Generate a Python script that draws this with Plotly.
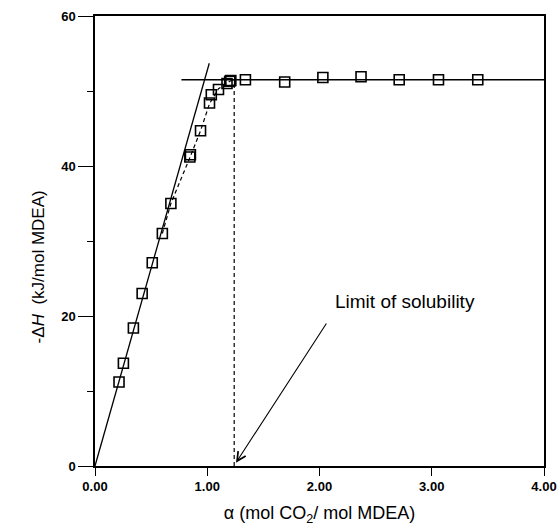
import plotly.graph_objects as go

# measured points: alpha (mol CO2 / mol MDEA) and -dH (kJ/mol MDEA)
alpha = [0.214, 0.253, 0.342, 0.42, 0.51, 0.60, 0.676, 0.845, 0.850, 0.94, 1.02,
         1.036, 1.10, 1.176, 1.20, 1.21, 1.34, 1.69, 2.03, 2.37, 2.71, 3.06, 3.41]
dH = [11.2, 13.7, 18.4, 23.0, 27.1, 31.0, 35.0, 41.2, 41.5, 44.7, 48.4,
      49.5, 50.2, 51.0, 51.3, 51.4, 51.5, 51.2, 51.8, 51.9, 51.5, 51.5, 51.5]

# initial-slope line through origin
slope_x = [0.0, 1.018]
slope_y = [0.0, 53.7]

# plateau line
plateau_x = [0.77, 4.0]
plateau_y = [51.5, 51.5]

# dashed transition curve
trans_x = [0.60, 0.676, 0.85, 0.94, 1.02, 1.10, 1.20, 1.24]
trans_y = [31.0, 35.0, 41.3, 44.7, 48.3, 50.3, 51.3, 51.5]

# limit of solubility
limit_x = [1.24, 1.24]
limit_y = [0.0, 51.5]

x_ticks = [0, 1, 2, 3, 4]
x_ticklabels = ["0.00", "1.00", "2.00", "3.00", "4.00"]
y_ticks = [0, 20, 40, 60]

FONT = "Liberation Sans, Arial, sans-serif"

fig = go.Figure()
fig.add_trace(go.Scatter(x=slope_x, y=slope_y, mode="lines",
                         line=dict(color="black", width=1.3), hoverinfo="skip"))
fig.add_trace(go.Scatter(x=plateau_x, y=plateau_y, mode="lines",
                         line=dict(color="black", width=1.3), hoverinfo="skip"))
fig.add_trace(go.Scatter(x=trans_x, y=trans_y, mode="lines",
                         line=dict(color="black", width=1.2, dash="4px,3px"), hoverinfo="skip"))
fig.add_trace(go.Scatter(x=limit_x, y=limit_y, mode="lines",
                         line=dict(color="black", width=1.2, dash="4px,3px"), hoverinfo="skip"))
fig.add_trace(go.Scatter(x=alpha, y=dH, mode="markers",
                         marker=dict(symbol="square-open", size=10, color="black",
                                     line=dict(width=1.6, color="black"))))

fig.add_annotation(x=1.256, y=0.45, ax=2.07, ay=19.2, xref="x", yref="y",
                   axref="x", ayref="y", text="", showarrow=True,
                   arrowhead=5, arrowsize=1.6, arrowwidth=1.1, arrowcolor="black")
fig.add_annotation(x=2.76, y=21.9, xref="x", yref="y", text="Limit of solubility",
                   showarrow=False, font=dict(family=FONT, size=19, color="black"))
fig.add_annotation(x=-0.125, y=26.6, xref="paper", yref="y", xanchor="center",
                   text="-Δ<i>H</i>\u00a0\u00a0(kJ/mol MDEA)", textangle=-90,
                   showarrow=False, font=dict(family=FONT, size=17, color="black"))

fig.update_layout(
    width=560, height=530,
    margin=dict(l=95, r=16, t=16, b=64),
    paper_bgcolor="white", plot_bgcolor="white",
    showlegend=False,
    font=dict(family=FONT, color="black"),
    xaxis=dict(range=[0, 4], tickvals=x_ticks, ticktext=x_ticklabels,
               automargin=False,
               showgrid=False, zeroline=False, showline=True, mirror=True,
               linecolor="black", linewidth=1.5, ticks="outside", ticklen=8,
               tickwidth=1.3, tickcolor="black",
               tickfont=dict(family=FONT, size=13, color="black", weight="bold"),
               title=dict(text="α (mol CO<sub>2</sub>/ mol MDEA)",
                          font=dict(family=FONT, size=18, color="black"), standoff=13)),
    yaxis=dict(range=[0, 60], tickvals=y_ticks,
               automargin=False,
               showgrid=False, zeroline=False, showline=True, mirror=True,
               linecolor="black", linewidth=1.5, ticks="outside", ticklen=15,
               tickwidth=1.3, tickcolor="black",
               minor=dict(dtick=10, ticks="outside", ticklen=6, tickwidth=1.2,
                          tickcolor="black", showgrid=False),
               tickfont=dict(family=FONT, size=13, color="black", weight="bold")),
)

fig.write_html("out.html")
